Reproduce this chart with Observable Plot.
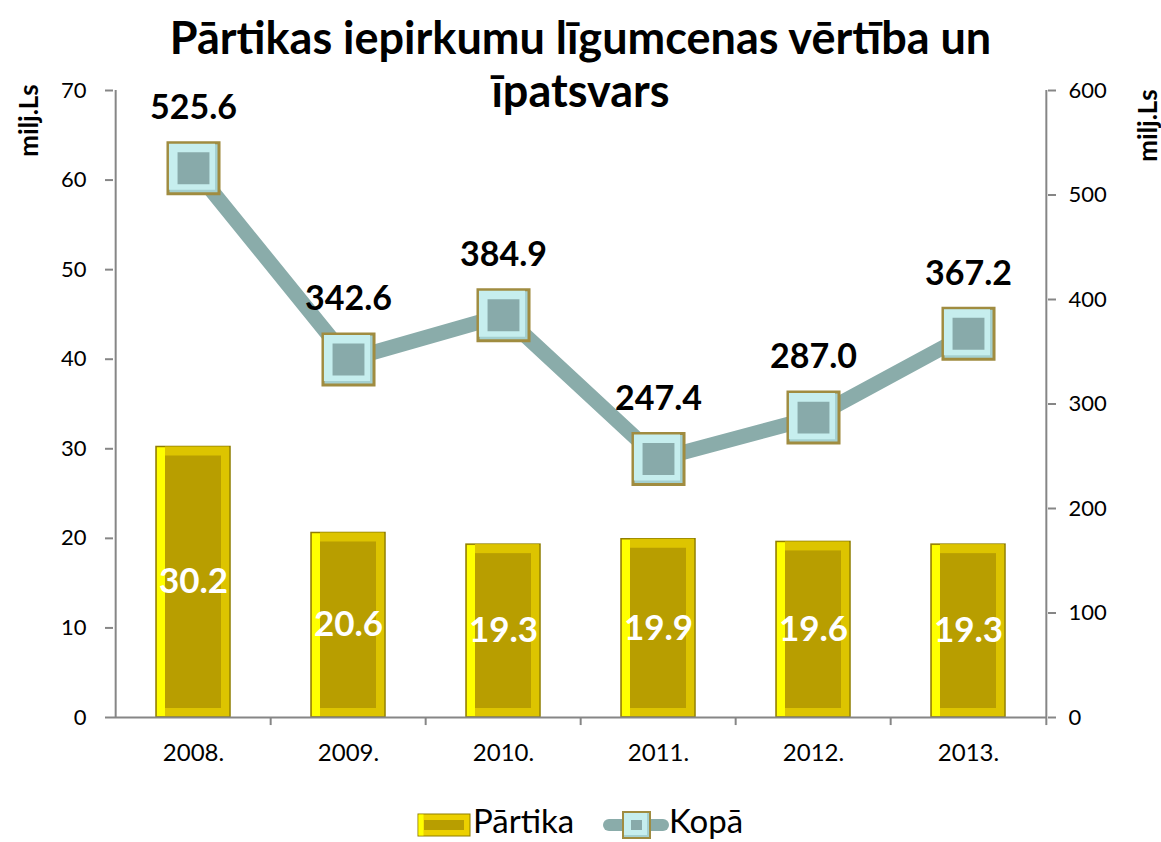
<!DOCTYPE html>
<html>
<head>
<meta charset="utf-8">
<script src="https://cdn.jsdelivr.net/npm/d3@7"></script>
<script src="https://cdn.jsdelivr.net/npm/@observablehq/plot@0.6"></script>
<style>
  html, body { margin: 0; padding: 0; background: #fff; }
  #wrap { position: relative; width: 1161px; height: 842px; font-family: Lato, "Open Sans", sans-serif; }
  #title { position: absolute; left: 0; top: 11px; width: 1161px; text-align: center; font-weight: bold; font-size: 45px; line-height: 53px; color: #000; z-index: 2; pointer-events: none; white-space: nowrap; }
  #legend { position: absolute; left: 0; top: 800px; width: 1161px; height: 42px; z-index: 2; }
  #chart { position: absolute; left: 0; top: 0; }
</style>
</head>
<body>
<div id="wrap">
  <div id="chart"></div>
  <div id="title">Pārtikas iepirkumu līgumcenas vērtība un<br>īpatsvars</div>
  <div id="legend"></div>
</div>
<script>
// ---- data ----
const years = ["2008.", "2009.", "2010.", "2011.", "2012.", "2013."];
const partika = [30.2, 20.6, 19.3, 19.9, 19.6, 19.3];
const kopa = [525.6, 342.6, 384.9, 247.4, 287.0, 367.2];
const leftTicks = [0, 10, 20, 30, 40, 50, 60, 70];
const rightTicks = [0, 100, 200, 300, 400, 500, 600];
const seriesNames = ["Pārtika", "Kopā"];
const axisTitle = "milj.Ls";

const leftMax = 70, rightMax = 600;
const ratio = leftMax / rightMax;

const rows = years.map((y, i) => ({year: y, partika: partika[i], kopa: kopa[i], kopaY: kopa[i] * ratio}));

// ---- layout ----
const W = 1161, H = 842;
const mL = 113, mR = 114, mT = 90, mB = 125;
const pInner = 0.525;
const step = (W - mL - mR) / years.length;
const bw = step * (1 - pInner);
const bev = 9;

const grey = "#868686";
const font = "Lato, 'Open Sans', sans-serif";

const chart = Plot.plot({
  width: W, height: H,
  marginLeft: mL, marginRight: mR, marginTop: mT, marginBottom: mB,
  style: {fontFamily: font, color: "#000", background: "transparent", overflow: "visible"},
  x: {domain: years, paddingInner: pInner, paddingOuter: pInner / 2},
  y: {domain: [0, leftMax]},
  marks: [
    // bars with bevel
    Plot.barY(rows, {x: "year", y: "partika", fill: "#ecd000", stroke: "#8f7e00", strokeWidth: 1.5}),
    Plot.barY(rows, {x: "year", y: "partika", fill: "#ffff00", insetRight: bw - bev, insetTop: 1, insetBottom: 1, insetLeft: 1}),
    Plot.barY(rows, {x: "year", y: "partika", fill: "#ddc400", insetTop: 0, insetLeft: bev, insetRight: 1, insetBottom: 1}),
    Plot.barY(rows, {x: "year", y: "partika", fill: "#b89e00", inset: bev}),
    // axes lines
    Plot.ruleY([0], {stroke: grey, strokeWidth: 2}),
    Plot.ruleX([years[0]], {x: d => d, dx: -step / 2, y1: 0, y2: leftMax, stroke: grey, strokeWidth: 2}),
    Plot.ruleX([years[years.length - 1]], {x: d => d, dx: step / 2, y1: 0, y2: leftMax, stroke: grey, strokeWidth: 2}),
    Plot.ruleX(years.slice(1), {x: d => d, dx: -step / 2, y1: 0, y2: -0.9, stroke: grey, strokeWidth: 2}),
    Plot.ruleX([years[years.length - 1]], {x: d => d, dx: step / 2, y1: 0, y2: -0.9, stroke: grey, strokeWidth: 2}),
    Plot.axisY(leftTicks, {anchor: "left", tickSize: 8, tickPadding: 19, stroke: grey, strokeWidth: 2, fill: "#000", fontSize: 22, label: null}),
    Plot.axisY(rightTicks.map(v => v * ratio), {anchor: "right", tickSize: 8, tickPadding: 13, stroke: grey, strokeWidth: 2, fill: "#000", fontSize: 22, label: null, tickFormat: d => String(Math.round(d / ratio))}),
    Plot.axisX({tickSize: 0, tickPadding: 26, fontSize: 24, fill: "#000", label: null}),
    // bar labels
    Plot.text(rows, {x: "year", y: d => d.partika / 2, text: d => d.partika.toFixed(1), fill: "#fff", fontSize: 35, fontWeight: "bold"}),
    // line
    Plot.line(rows, {x: "year", y: "kopaY", stroke: "#8aacaa", strokeWidth: 15, strokeLinejoin: "round"}),
    // markers with bevel
    Plot.dot(rows, {x: "year", y: "kopaY", symbol: "square", r: 28.8, fill: "#a4d0d0", stroke: "#a08c40", strokeWidth: 3}),
    Plot.dot(rows, {x: "year", y: "kopaY", symbol: "square", r: 26.0, dx: -1.5, dy: -1.5, fill: "#c6eeee"}),
    Plot.dot(rows, {x: "year", y: "kopaY", symbol: "square", r: 18, fill: "#88aaaa"}),
    // line labels
    Plot.text(rows, {x: "year", y: "kopaY", text: d => d.kopa.toFixed(1), dy: -60, fill: "#000", fontSize: 34, fontWeight: "bold"}),
    // axis titles
    Plot.text([axisTitle], {frameAnchor: "top-left", dx: -84, dy: 30, rotate: -90, textAnchor: "middle", lineAnchor: "middle", fontSize: 26, fontWeight: "bold", fill: "#000"}),
    Plot.text([axisTitle], {frameAnchor: "top-right", dx: 101, dy: 35, rotate: -90, textAnchor: "middle", lineAnchor: "middle", fontSize: 26, fontWeight: "bold", fill: "#000"})
  ]
});
document.getElementById("chart").appendChild(chart);

// ---- legend ----
const legend = document.getElementById("legend");
legend.innerHTML = `
<svg width="1161" height="42" style="font-family:${font}; display:block">
  <g transform="translate(418,14)">
    <rect x="0" y="0" width="52" height="22" fill="#ecd000" stroke="#8f7e00" stroke-width="1"/>
    <rect x="0.5" y="0.5" width="5" height="21" fill="#ffff00"/>
    <rect x="6" y="6" width="40" height="10" fill="#b89e00"/>
  </g>
  <text x="473" y="25" dominant-baseline="middle" font-size="33" fill="#000">${seriesNames[0]}</text>
  <g transform="translate(603,25)">
    <line x1="6" y1="0" x2="60" y2="0" stroke="#8aacaa" stroke-width="12" stroke-linecap="round"/>
    <rect x="20" y="-13" width="27" height="26" fill="#a4d0d0" stroke="#a08c40" stroke-width="2"/>
    <rect x="21" y="-12" width="23" height="22" fill="#c6eeee"/>
    <rect x="28" y="-5" width="11" height="10" fill="#88aaaa"/>
  </g>
  <text x="669" y="25" dominant-baseline="middle" font-size="33" fill="#000">${seriesNames[1]}</text>
</svg>`;
</script>
</body>
</html>
